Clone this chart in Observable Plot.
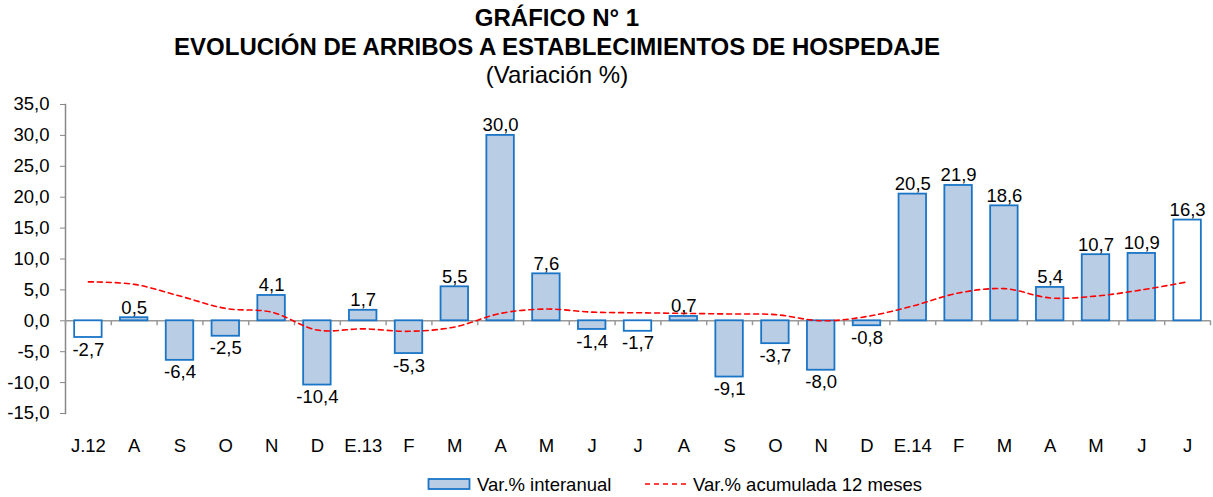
<!DOCTYPE html>
<html><head><meta charset="utf-8">
<script src="https://cdn.jsdelivr.net/npm/d3@7"></script>
<script src="https://cdn.jsdelivr.net/npm/@observablehq/plot@0.6"></script>
<style>
body{margin:0;background:#fff;font-family:"Liberation Sans",Arial,sans-serif;}
#wrap{position:relative;width:1213px;height:497px;overflow:hidden;}
.t{position:absolute;left:0;width:1114px;text-align:center;color:#000;line-height:1;white-space:nowrap}
#chart{position:absolute;left:0;top:90px;}
.lg{position:absolute;font-size:18.5px;line-height:1;color:#000;white-space:nowrap}
</style></head><body>
<div id="wrap">
  <div class="t" style="top:6px;font-size:24px;font-weight:bold">GRÁFICO N° 1</div>
  <div class="t" style="top:35px;font-size:24px;font-weight:bold">EVOLUCIÓN DE ARRIBOS A ESTABLECIMIENTOS DE HOSPEDAJE</div>
  <div class="t" style="top:63px;font-size:24px;">(Variación %)</div>
  <div id="chart"></div>
  <svg class="lg" style="left:426px;top:476px" width="50" height="18">
    <rect x="2.5" y="3" width="41" height="10" fill="#b9cde5" stroke="#1a75c7" stroke-width="1.8"></rect>
  </svg>
  <div class="lg" style="left:477px;top:476px;">Var.% interanual</div>
  <svg class="lg" style="left:644px;top:476px" width="46" height="18">
    <line x1="1" x2="44" y1="8" y2="8" stroke="#ff0000" stroke-width="1.6" stroke-dasharray="5,4"></line>
  </svg>
  <div class="lg" style="left:693px;top:476px;">Var.% acumulada 12 meses</div>
</div>
<script>
const categories = ["J.12","A","S","O","N","D","E.13","F","M","A","M","J","J","A","S","O","N","D","E.14","F","M","A","M","J","J"];
const interanual = [-2.7,0.5,-6.4,-2.5,4.1,-10.4,1.7,-5.3,5.5,30.0,7.6,-1.4,-1.7,0.7,-9.1,-3.7,-8.0,-0.8,20.5,21.9,18.6,5.4,10.7,10.9,16.3];
const acumulada = [6.3,5.9,4.0,2.0,1.4,-1.5,-1.3,-1.7,-1.0,1.2,1.9,1.4,1.3,1.2,1.1,1.0,0.0,0.7,2.4,4.5,5.2,3.7,4.0,5.0,6.3];
const yTicks = [-15,-10,-5,0,5,10,15,20,25,30,35];

const idx = d3.range(categories.length);
const fmt = v => d3.format(".1f")(v).replace(".", ",").replace("−","-");
const W = 1213, H = 380, mL = 65, mR = 3;
const step = (W - mL - mR) / categories.length;
const FS = 18.5;

const chart = Plot.plot({
  width: W, height: H,
  marginLeft: mL, marginRight: mR, marginTop: 14, marginBottom: 57,
  style: {fontFamily: '"Liberation Sans", Arial, sans-serif', fontSize: FS + "px", color: "#000", background: "#fff", overflow: "visible"},
  x: {type: "band", domain: idx, paddingInner: 0.4, paddingOuter: 0.2, round: false},
  y: {domain: [-15, 35]},
  marks: [
    Plot.frame({anchor: "left", stroke: "#888", strokeWidth: 1.5}),
    Plot.axisY({ticks: yTicks, tickFormat: fmt, tickSize: 5, tickPadding: 11, stroke: "#888", fontSize: FS}),
    Plot.axisX({tickSize: 0, tickPadding: 25, tickFormat: i => categories[i], fontSize: FS}),
    Plot.ruleY([0], {stroke: "#999", strokeWidth: 1.5}),
    Plot.ruleX(idx, {x: i => i, y1: 0, y2: -0.8, dx: -step/2, stroke: "#999", strokeWidth: 1.5}),
    Plot.ruleX([idx[idx.length-1]], {x: i => i, y1: 0, y2: -0.8, dx: step/2, stroke: "#999", strokeWidth: 1.5}),
    Plot.barY(idx, {x: i => i, y: i => interanual[i],
      fill: i => (i % 12 === 0 ? "#ffffff" : "#b9cde5"),
      stroke: "#1a75c7", strokeWidth: 1.8}),
    Plot.line(idx, {x: i => i, y: i => acumulada[i], stroke: "#ff0000", strokeWidth: 1.6,
      strokeDasharray: "5,4", curve: "catmull-rom"}),
    Plot.text(idx.filter(i => interanual[i] >= 0), {x: i => i, y: i => interanual[i], text: i => fmt(interanual[i]),
      lineAnchor: "bottom", dy: -4, fontSize: FS, fill: "#000"}),
    Plot.text(idx.filter(i => interanual[i] < 0), {x: i => i, y: i => interanual[i], text: i => fmt(interanual[i]),
      lineAnchor: "top", dy: 5, fontSize: FS, fill: "#000"})
  ]
});
document.getElementById("chart").appendChild(chart);
</script>
</body></html>
